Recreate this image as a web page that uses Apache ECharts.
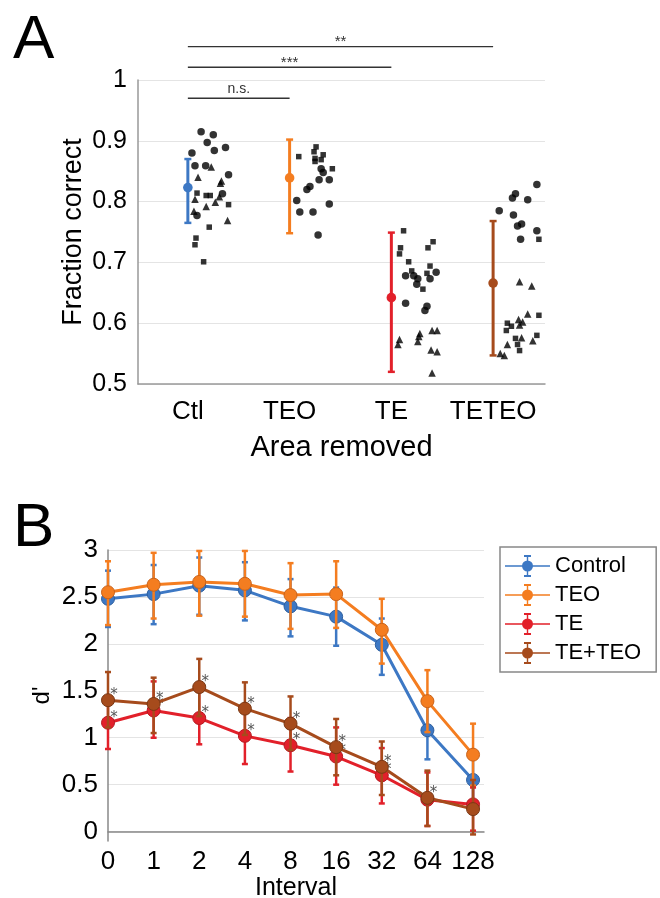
<!DOCTYPE html>
<html><head><meta charset="utf-8">
<script src="https://cdn.jsdelivr.net/npm/echarts@6/dist/echarts.min.js"></script>
<style>html,body{margin:0;padding:0;background:#fff}#c{width:660px;height:898px}</style>
</head><body><div id="c"></div>
<script>
// ---------------- Panel A data ----------------
const areaCats = ['Ctl', 'TEO', 'TE', 'TETEO'];
const areaMeans = [0.823, 0.839, 0.642, 0.666];
const areaLow = [0.765, 0.748, 0.520, 0.547];
const areaHigh = [0.870, 0.902, 0.749, 0.768];
// individual animals: [offset inside category, fraction correct]
const ctlCircles = [[0.62,0.915],[0.74,0.910],[0.68,0.897],[0.75,0.884],[0.86,0.889],[0.53,0.880],[0.56,0.859],[0.665,0.859],[0.89,0.844],[0.83,0.813],[0.58,0.777]];
const ctlTriangles = [[0.72,0.857],[0.59,0.840],[0.82,0.834],[0.81,0.830],[0.56,0.804],[0.80,0.808],[0.76,0.799],[0.67,0.792],[0.55,0.784],[0.88,0.769]];
const ctlSquares = [[0.58,0.814],[0.67,0.810],[0.71,0.810],[0.89,0.795],[0.70,0.758],[0.57,0.740],[0.56,0.729],[0.645,0.701]];
const teoSquares = [[0.75,0.890],[0.73,0.882],[0.58,0.874],[0.82,0.877],[0.74,0.871],[0.74,0.866],[0.80,0.869],[0.91,0.854]];
const teoCircles = [[0.80,0.854],[0.82,0.848],[0.78,0.836],[0.88,0.836],[0.69,0.825],[0.66,0.820],[0.56,0.802],[0.88,0.796],[0.59,0.783],[0.72,0.783],[0.77,0.745]];
const teSquares = [[0.61,0.752],[0.90,0.734],[0.58,0.724],[0.85,0.724],[0.57,0.714],[0.66,0.701],[0.87,0.694],[0.69,0.686],[0.84,0.682],[0.80,0.656]];
const teCircles = [[0.63,0.678],[0.71,0.678],[0.75,0.673],[0.87,0.673],[0.93,0.684],[0.74,0.664],[0.63,0.633],[0.84,0.628],[0.82,0.621]];
const teTriangles = [[0.77,0.583],[0.76,0.578],[0.75,0.570],[0.89,0.588],[0.94,0.588],[0.57,0.573],[0.555,0.565],[0.88,0.556],[0.94,0.553],[0.89,0.518]];
const teteoCircles = [[0.92,0.828],[0.71,0.813],[0.68,0.806],[0.83,0.803],[0.55,0.785],[0.69,0.778],[0.77,0.763],[0.73,0.760],[0.92,0.752],[0.76,0.738]];
const teteoSquares = [[0.94,0.738],[0.94,0.613],[0.63,0.600],[0.67,0.595],[0.62,0.588],[0.71,0.575],[0.92,0.580],[0.73,0.565],[0.75,0.555]];
const teteoTriangles = [[0.75,0.668],[0.87,0.661],[0.83,0.615],[0.74,0.606],[0.78,0.602],[0.75,0.597],[0.77,0.576],[0.63,0.565],[0.88,0.571],[0.56,0.550],[0.60,0.547]];
// significance brackets: [from category, to category, label]
const sigPairs = [[0, 1, 'n.s.'], [0, 2, '***'], [0, 3, '**']];
const sigLevels = [0.970, 1.021, 1.055];

// ---------------- Panel B data ----------------
const intervals = ['0', '1', '2', '4', '8', '16', '32', '64', '128'];
const bNames = ['Control', 'TEO', 'TE', 'TE+TEO'];
const controlD  = [2.48, 2.53, 2.62, 2.57, 2.40, 2.29, 1.99, 1.08, 0.55];
const controlLo = [2.18, 2.21, 2.31, 2.25, 2.08, 1.98, 1.67, 0.77, 0.30];
const controlHi = [2.78, 2.84, 2.92, 2.87, 2.69, 2.60, 2.27, 1.39, 0.80];
const teoD  = [2.55, 2.63, 2.66, 2.64, 2.52, 2.53, 2.15, 1.39, 0.82];
const teoLo = [2.20, 2.27, 2.30, 2.29, 2.16, 2.17, 1.79, 1.06, 0.49];
const teoHi = [2.88, 2.97, 2.99, 2.99, 2.86, 2.88, 2.48, 1.72, 1.15];
const teD  = [1.16, 1.29, 1.21, 1.02, 0.92, 0.80, 0.60, 0.34, 0.29];
const teLo = [0.88, 1.00, 0.93, 0.72, 0.64, 0.50, 0.30, 0.06, 0.01];
const teHi = [1.44, 1.60, 1.49, 1.31, 1.21, 1.11, 0.89, 0.63, 0.47];
const teteoD  = [1.40, 1.36, 1.54, 1.31, 1.15, 0.90, 0.69, 0.36, 0.24];
const teteoLo = [1.11, 1.05, 1.23, 1.03, 0.87, 0.60, 0.39, 0.06, -0.03];
const teteoHi = [1.70, 1.64, 1.84, 1.59, 1.44, 1.20, 0.96, 0.65, 0.55];
const teSig    = [1, 1, 1, 1, 1, 1, 1, 0, 0];
const teteoSig = [1, 1, 1, 1, 1, 1, 1, 1, 0];
const yTicksB = [0, 0.5, 1, 1.5, 2, 2.5, 3];

// ---------------- styles ----------------
const FONT = '"Liberation Sans", Arial, Helvetica, sans-serif';
const areaColors = ['#3d78c4', '#f47d20', '#e2202a', '#a64b1c'];
const bColors = ['#3d78c4', '#f47d20', '#e2202a', '#a64b1c'];
const bDark = ['#2e5f9e', '#c9631a', '#b51a22', '#7a3714'];

const series = [];

// Panel A: individual points
function addPts(arr, cat, symbol, size) {
  series.push({
    type: 'scatter', xAxisIndex: 0, yAxisIndex: 0, symbol: symbol, symbolSize: size,
    itemStyle: { color: '#000' }, silent: true, z: 3,
    data: arr.map(p => [cat + p[0], p[1]])
  });
}
addPts(ctlCircles, 0, 'circle', 7.5);
addPts(ctlTriangles, 0, 'triangle', 7.5);
addPts(ctlSquares, 0, 'rect', 5.5);
addPts(teoSquares, 1, 'rect', 5.5);
addPts(teoCircles, 1, 'circle', 7.5);
addPts(teSquares, 2, 'rect', 5.5);
addPts(teCircles, 2, 'circle', 7.5);
addPts(teTriangles, 2, 'triangle', 7.5);
addPts(teteoCircles, 3, 'circle', 7.5);
addPts(teteoSquares, 3, 'rect', 5.5);
addPts(teteoTriangles, 3, 'triangle', 7.5);

// Panel A: mean and error bar
series.push({
  type: 'custom', xAxisIndex: 0, yAxisIndex: 0, z: 4, clip: false,
  data: areaCats.map((c, i) => ({ value: [i + 0.49, areaMeans[i], areaLow[i], areaHigh[i]], itemStyle: { color: areaColors[i] } })),
  renderItem: function (params, api) {
    const x = api.value(0);
    const pm = api.coord([x, api.value(1)]);
    const pl = api.coord([x, api.value(2)]);
    const ph = api.coord([x, api.value(3)]);
    const c = api.visual('color');
    return { type: 'group', children: [
      { type: 'line', shape: { x1: ph[0], y1: ph[1], x2: pl[0], y2: pl[1] }, style: { stroke: c, lineWidth: 3 } },
      { type: 'line', shape: { x1: ph[0] - 3.5, y1: ph[1], x2: ph[0] + 3.5, y2: ph[1] }, style: { stroke: c, lineWidth: 2.5 } },
      { type: 'line', shape: { x1: pl[0] - 3.5, y1: pl[1], x2: pl[0] + 3.5, y2: pl[1] }, style: { stroke: c, lineWidth: 2.5 } },
      { type: 'circle', shape: { cx: pm[0], cy: pm[1], r: 4.8 }, style: { fill: c } }
    ] };
  }
});

// Panel A: significance brackets
series.push({
  type: 'custom', xAxisIndex: 0, yAxisIndex: 0, z: 4, clip: false, silent: true,
  data: sigPairs.map((p, i) => [p[0] + 0.49, p[1] + 0.49, sigLevels[i], i]),
  renderItem: function (params, api) {
    const a = api.coord([api.value(0), api.value(2)]);
    const b = api.coord([api.value(1), api.value(2)]);
    const lab = sigPairs[api.value(3)][2];
    const isStar = lab.indexOf('*') >= 0;
    return { type: 'group', children: [
      { type: 'line', shape: { x1: a[0], y1: a[1], x2: b[0], y2: b[1] }, style: { stroke: '#333', lineWidth: 1.3 } },
      { type: 'text', x: (a[0] + b[0]) / 2, y: a[1] + (isStar ? 3 : -2),
        style: { text: lab, textAlign: 'center', textVerticalAlign: 'bottom', fill: '#333',
                 font: (isStar ? '15px ' : '14px ') + FONT } }
    ] };
  }
});

// Panel B
const bMeans = [controlD, teoD, teD, teteoD];
const bLows = [controlLo, teoLo, teLo, teteoLo];
const bHighs = [controlHi, teoHi, teHi, teteoHi];
const bSig = [null, null, teSig, teteoSig];
bNames.forEach((name, g) => {
  series.push({
    type: 'custom', name: name + ' err', xAxisIndex: 1, yAxisIndex: 1, z: 5 + g * 2, clip: false, silent: true,
    itemStyle: { color: bColors[g] },
    data: intervals.map((s, k) => [k, bLows[g][k], bHighs[g][k]]),
    renderItem: function (params, api) {
      const lo = api.coord([api.value(0), api.value(1)]);
      const hi = api.coord([api.value(0), api.value(2)]);
      const c = api.visual('color');
      return { type: 'group', children: [
        { type: 'line', shape: { x1: hi[0], y1: hi[1], x2: lo[0], y2: lo[1] }, style: { stroke: c, lineWidth: 2.5 } },
        { type: 'line', shape: { x1: hi[0] - 3, y1: hi[1], x2: hi[0] + 3, y2: hi[1] }, style: { stroke: c, lineWidth: 2.5 } },
        { type: 'line', shape: { x1: lo[0] - 3, y1: lo[1], x2: lo[0] + 3, y2: lo[1] }, style: { stroke: c, lineWidth: 2.5 } }
      ] };
    }
  });
  series.push({
    type: 'line', name: name, xAxisIndex: 1, yAxisIndex: 1, z: 6 + g * 2,
    symbol: 'circle', symbolSize: 13, showAllSymbol: true,
    lineStyle: { color: bColors[g], width: 3 },
    itemStyle: { color: bColors[g], borderColor: bDark[g], borderWidth: 1 },
    label: {
      show: !!bSig[g], position: [13, 2], align: 'center', verticalAlign: 'middle',
      formatter: p => (bSig[g] && bSig[g][p.dataIndex]) ? '*' : '',
      fontSize: 15, color: '#555', fontFamily: '"DejaVu Sans", sans-serif'
    },
    data: bMeans[g].map((v, k) => [k, v])
  });
});

const legendIcon = 'path://M0 10.3H45V11.7H0Z M21.8 1H23.2V21H21.8Z M19 0H26V2H19Z M19 20H26V22H19Z M17 11A5.5 5.5 0 1 1 28 11A5.5 5.5 0 1 1 17 11Z';

const option = {
  animation: false,
  backgroundColor: '#fff',
  textStyle: { fontFamily: FONT },
  graphic: [
    { type: 'text', left: 13, top: 10, style: { text: 'A', font: '62px ' + FONT, fill: '#000' } },
    { type: 'text', left: 13, top: 498, style: { text: 'B', font: '62px ' + FONT, fill: '#000' } }
  ],
  legend: {
    show: true, orient: 'vertical', left: 500, top: 547,
    data: bNames, icon: legendIcon, itemWidth: 45, itemHeight: 22, itemGap: 7,
    borderColor: '#888', borderWidth: 1.5, padding: [8, 15, 8, 5],
    textStyle: { fontSize: 22, color: '#000', fontFamily: FONT },
    itemStyle: { borderWidth: 0 }, selectedMode: false
  },
  grid: [
    { left: 138, top: 80, width: 407, height: 304, outerBoundsMode: 'none', containLabel: false },
    { left: 108, top: 550, width: 376, height: 291, outerBoundsMode: 'none', containLabel: false }
  ],
  xAxis: [
    { gridIndex: 0, type: 'value', min: 0, max: 4,
      axisLine: { show: true, lineStyle: { color: '#999', width: 1.5 } },
      axisTick: { show: false }, splitLine: { show: false },
      axisLabel: { customValues: [0.49, 1.49, 2.49, 3.49], formatter: v => areaCats[Math.floor(v)],
                   fontSize: 26, color: '#000', margin: 15, fontFamily: FONT },
      name: 'Area removed', nameLocation: 'middle', nameGap: 49, nameMoveOverlap: false,
      nameTextStyle: { fontSize: 29, color: '#000', fontFamily: FONT } },
    { gridIndex: 1, type: 'value', min: 0, max: 8.24,
      axisLine: { show: true, lineStyle: { color: '#888', width: 1.5 } },
      axisTick: { show: false }, splitLine: { show: false },
      axisLabel: { customValues: [0, 1, 2, 3, 4, 5, 6, 7, 8], formatter: v => intervals[Math.round(v)],
                   fontSize: 26, color: '#000', margin: 8, fontFamily: FONT },
      name: 'Interval', nameLocation: 'middle', nameGap: 30,
      nameTextStyle: { fontSize: 25, color: '#000', fontFamily: FONT } }
  ],
  yAxis: [
    { gridIndex: 0, type: 'value', min: 0.5, max: 1, interval: 0.1,
      axisLine: { show: true, lineStyle: { color: '#999', width: 1.5 } },
      axisTick: { show: false },
      splitLine: { show: true, lineStyle: { color: '#e4e4e4', width: 1 } },
      axisLabel: { fontSize: 25, color: '#000', margin: 11, fontFamily: FONT },
      name: 'Fraction correct', nameLocation: 'middle', nameGap: 51, nameMoveOverlap: false,
      nameTextStyle: { fontSize: 27, color: '#000', fontFamily: FONT } },
    { gridIndex: 1, type: 'value', min: -0.1, max: 3,
      axisLine: { show: true, lineStyle: { color: '#888', width: 1.5 } },
      axisTick: { show: false, customValues: yTicksB },
      splitLine: { show: true, lineStyle: { color: '#e4e4e4', width: 1 } },
      axisLabel: { customValues: yTicksB, fontSize: 26, color: '#000', margin: 10, fontFamily: FONT },
      name: "d'", nameLocation: 'middle', nameGap: 54, nameMoveOverlap: false,
      nameTextStyle: { fontSize: 24, color: '#000', fontFamily: FONT } }
  ],
  series: series
};
const chart = echarts.init(document.getElementById('c'), null, { renderer: 'canvas' });
chart.setOption(option);
</script></body></html>
